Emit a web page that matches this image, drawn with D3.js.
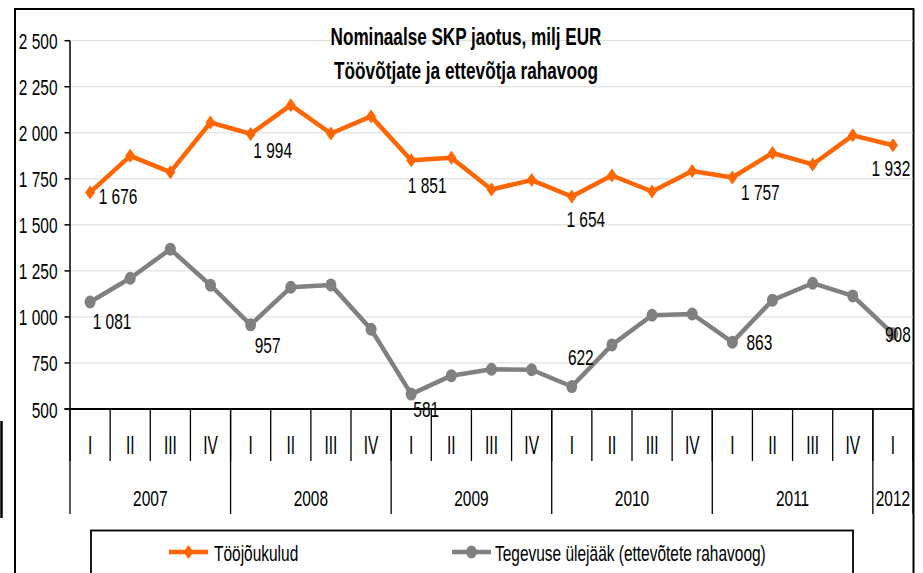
<!DOCTYPE html>
<html>
<head>
<meta charset="utf-8">
<script src="https://cdn.jsdelivr.net/npm/d3@7"></script>
<style>
  html, body { margin: 0; padding: 0; background: #fff; }
  svg { display: block; }
</style>
</head>
<body>
<svg id="chart" width="923" height="573"></svg>
<script>
// ---------- DATA ----------
const years = ["2007", "2008", "2009", "2010", "2011", "2012"];
const quarterLabels = ["I", "II", "III", "IV", "I", "II", "III", "IV", "I", "II", "III", "IV",
                       "I", "II", "III", "IV", "I", "II", "III", "IV", "I"];
const quartersPerYear = [4, 4, 4, 4, 4, 1];
const tooJoukulud = [1676, 1875, 1786, 2056, 1994, 2150, 1996, 2089, 1851, 1864, 1692, 1743,
                     1654, 1768, 1681, 1792, 1757, 1890, 1828, 1986, 1932];
const tegevuseUlejaak = [1081, 1210, 1368, 1172, 957, 1161, 1174, 933, 581, 681, 716, 713,
                         622, 848, 1009, 1016, 863, 1091, 1183, 1114, 908];
const yTicks = [500, 750, 1000, 1250, 1500, 1750, 2000, 2250, 2500];
const labeledIdx = [0, 4, 8, 12, 16, 20];
const seriesNames = ["Tööjõukulud", "Tegevuse ülejääk (ettevõtete rahavoog)"];
const titleLines = ["Nominaalse SKP jaotus, milj EUR", "Töövõtjate ja ettevõtja rahavoog"];

// label placement (offset from point: text center dx, baseline dy)
const orangeLabelOff = [[28, 12], [22, 24], [16, 33], [14, 31], [28, 22], [-2, 31]];
const grayLabelOff   = [[22, 27], [17, 28], [15, 23], [9, -22], [27, 8], [5, 8]];

// ---------- SETUP ----------
const svg = d3.select("#chart");
const FONT = "'Liberation Sans Narrow', 'Liberation Sans', Arial, sans-serif";
const ORANGE = "#FF6600", GRAY = "#808080";
const F = 22;

const plot = { left: 70, right: 913, top: 40.7, bottom: 409 };

// glyph metrics via canvas (height of digits / capitals)
const ctx = document.createElement("canvas").getContext("2d");
function glyphAscent(str, size, weight) {
  ctx.font = `${weight} ${size}px ${FONT}`;
  const m = ctx.measureText(str);
  return m.actualBoundingBoxAscent || size * 0.7;
}
const probe = svg.append("text").attr("font-family", FONT).attr("font-size", 100).text("0123456789");
const digitEm = probe.node().getComputedTextLength() / 1000;
probe.remove();
const SX = 8.6 / (digitEm * F);
const SY = 15.3 / glyphAscent("0", F, "normal");
const SYQ = 17 / glyphAscent("I", F, "normal");

function txt(g, s, x, y, o = {}) {
  const size = o.size || F;
  const sx = o.sx || SX;
  const sy = o.sy || SY;
  return g.append("text")
    .attr("transform", `translate(${x},${y}) scale(${sx},${sy})`)
    .attr("font-family", FONT)
    .attr("font-size", size)
    .attr("font-weight", o.weight || "normal")
    .attr("fill", o.fill || "#000")
    .attr("text-anchor", o.anchor || "middle")
    .text(s);
}

const x = d3.scaleBand().domain(d3.range(quarterLabels.length))
  .range([plot.left, plot.right]).paddingInner(0).paddingOuter(0);
const cx = i => x(i) + x.bandwidth() / 2;
const y = d3.scaleLinear().domain([500, 2500]).range([plot.bottom, plot.top]);

const loc = d3.formatLocale({ decimal: ",", thousands: " ", grouping: [3], currency: ["", ""] });
const fmt = loc.format(",d");

// ---------- FRAME ----------
svg.append("line").attr("x1", 15).attr("x2", 15).attr("y1", 8).attr("y2", 573)
  .attr("stroke", "#000").attr("stroke-width", 2);
svg.append("line").attr("x1", 14).attr("x2", 914).attr("y1", 9).attr("y2", 9)
  .attr("stroke", "#000").attr("stroke-width", 2);
svg.append("line").attr("x1", 913.5).attr("x2", 913.5).attr("y1", 8).attr("y2", 573)
  .attr("stroke", "#000").attr("stroke-width", 2);
svg.append("line").attr("x1", 1.5).attr("x2", 1.5).attr("y1", 421).attr("y2", 518)
  .attr("stroke", "#000").attr("stroke-width", 2.5);

// ---------- GRID ----------
svg.append("g").selectAll("line").data(yTicks.filter(d => d > 500)).join("line")
  .attr("x1", plot.left).attr("x2", plot.right)
  .attr("y1", d => y(d)).attr("y2", d => y(d))
  .attr("stroke", "#d9d9d9").attr("stroke-width", 1);

// ---------- TITLE ----------
const tg = svg.append("g");
const SYT = 16.5 / glyphAscent("N", 22, "bold");
[[titleLines[0], 45, 271], [titleLines[1], 79.3, 264]].forEach(([s, by, w]) => {
  const t = txt(tg, s, 466, by, { size: 22, weight: "bold", sx: 1, sy: 1 });
  const nat = t.node().getComputedTextLength();
  t.attr("transform", `translate(466,${by}) scale(${w / nat},${SYT})`);
});

// ---------- SERIES ----------
const line = d3.line().x((d, i) => cx(i)).y(d => y(d));
svg.append("path").datum(tegevuseUlejaak).attr("d", line)
  .attr("fill", "none").attr("stroke", GRAY).attr("stroke-width", 4.5).attr("stroke-linejoin", "round");
svg.append("path").datum(tooJoukulud).attr("d", line)
  .attr("fill", "none").attr("stroke", ORANGE).attr("stroke-width", 4.5).attr("stroke-linejoin", "round");

const diamond = "M0,-7L5,0L0,7L-5,0Z";
svg.append("g").selectAll("path").data(tooJoukulud).join("path")
  .attr("d", diamond).attr("transform", (d, i) => `translate(${cx(i)},${y(d)})`).attr("fill", ORANGE);
svg.append("g").selectAll("ellipse").data(tegevuseUlejaak).join("ellipse")
  .attr("cx", (d, i) => cx(i)).attr("cy", d => y(d)).attr("rx", 5.5).attr("ry", 6.5).attr("fill", GRAY);

// ---------- DATA LABELS ----------
const lg = svg.append("g");
labeledIdx.forEach((idx, k) => {
  txt(lg, fmt(tooJoukulud[idx]), cx(idx) + orangeLabelOff[k][0], y(tooJoukulud[idx]) + orangeLabelOff[k][1]);
  txt(lg, fmt(tegevuseUlejaak[idx]), cx(idx) + grayLabelOff[k][0], y(tegevuseUlejaak[idx]) + grayLabelOff[k][1]);
});

// ---------- Y AXIS ----------
const yg = svg.append("g");
yg.append("line").attr("x1", plot.left).attr("x2", plot.left).attr("y1", plot.top).attr("y2", plot.bottom)
  .attr("stroke", "#000").attr("stroke-width", 1.5);
yTicks.forEach(t => {
  yg.append("line").attr("x1", plot.left - 5.5).attr("x2", plot.left).attr("y1", y(t)).attr("y2", y(t))
    .attr("stroke", "#000").attr("stroke-width", 1.5);
  txt(yg, fmt(t), 57.5, y(t) + 8.5, { anchor: "end" });
});

// ---------- X AXIS ----------
const xg = svg.append("g");
xg.append("line").attr("x1", plot.left - 5.5).attr("x2", plot.right).attr("y1", plot.bottom).attr("y2", plot.bottom)
  .attr("stroke", "#000").attr("stroke-width", 2);
// quarter dividers
d3.range(quarterLabels.length + 1).forEach(i => {
  const xx = i < quarterLabels.length ? x(i) : plot.right;
  xg.append("line").attr("x1", xx).attr("x2", xx).attr("y1", plot.bottom).attr("y2", 461)
    .attr("stroke", "#000").attr("stroke-width", 1.3);
});
quarterLabels.forEach((q, i) => txt(xg, q, cx(i), 453.5, { sy: SYQ }));
// year dividers and labels
let start = 0;
years.forEach((yr, k) => {
  const n = quartersPerYear[k];
  const x0 = x(start), x1 = start + n < quarterLabels.length ? x(start + n) : plot.right;
  xg.append("line").attr("x1", x0).attr("x2", x0).attr("y1", plot.bottom).attr("y2", 514)
    .attr("stroke", "#000").attr("stroke-width", 1.3);
  txt(xg, yr, (x0 + x1) / 2, 506);
  start += n;
});
xg.append("line").attr("x1", plot.right).attr("x2", plot.right).attr("y1", plot.bottom).attr("y2", 514)
  .attr("stroke", "#000").attr("stroke-width", 1.3);

// ---------- LEGEND ----------
const leg = svg.append("g");
leg.append("rect").attr("x", 91).attr("y", 530.5).attr("width", 762).attr("height", 60)
  .attr("fill", "none").attr("stroke", "#000").attr("stroke-width", 1.8);
const legItems = [
  { name: seriesNames[0], color: ORANGE, x0: 169, x1: 208, tx: 214, shape: "diamond" },
  { name: seriesNames[1], color: GRAY, x0: 452, x1: 491, tx: 495, shape: "circle" }
];
legItems.forEach(it => {
  leg.append("line").attr("x1", it.x0).attr("x2", it.x1).attr("y1", 552).attr("y2", 552)
    .attr("stroke", it.color).attr("stroke-width", 4.5);
  const mx = (it.x0 + it.x1) / 2;
  if (it.shape === "diamond") {
    leg.append("path").attr("d", diamond).attr("transform", `translate(${mx},552)`).attr("fill", it.color);
  } else {
    leg.append("ellipse").attr("cx", mx).attr("cy", 552).attr("rx", 5.5).attr("ry", 6.5).attr("fill", it.color);
  }
  txt(leg, it.name, it.tx, 560.5, { anchor: "start" });
});
</script>
</body>
</html>
